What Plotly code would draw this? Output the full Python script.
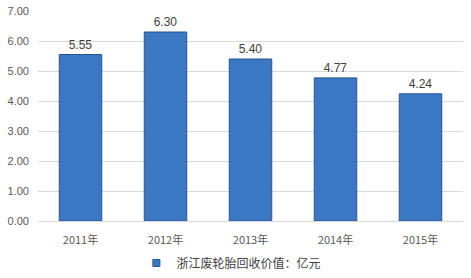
import plotly.graph_objects as go

years = ["2011年", "2012年", "2013年", "2014年", "2015年"]
values = [5.55, 6.30, 5.40, 4.77, 4.24]
value_labels = ["5.55", "6.30", "5.40", "4.77", "4.24"]
series_name = "浙江废轮胎回收价值：亿元"
y_ticks = [0, 1, 2, 3, 4, 5, 6, 7]

fig = go.Figure()
fig.add_trace(go.Bar(
    x=years, y=values, name=series_name, showlegend=False,
    text=value_labels, textposition="outside",
    textfont=dict(family="Liberation Sans, sans-serif", size=12, color="#404040"),
    marker=dict(color="#3B78C4", line=dict(color="#27558F", width=1)),
    width=0.5, cliponaxis=False,
))
# legend entry with small square swatch
fig.add_trace(go.Scatter(
    x=[None], y=[None], mode="markers", name=series_name,
    marker=dict(symbol="square", size=7, color="#3B78C4",
                line=dict(color="#27558F", width=1)),
))
fig.update_layout(
    width=471, height=278,
    margin=dict(l=38, r=8, t=11, b=57, autoexpand=False),
    plot_bgcolor="white", paper_bgcolor="white",
    font=dict(family="Noto Sans CJK SC, Liberation Sans, sans-serif", size=11, color="#595959"),
    showlegend=True,
    legend=dict(orientation="h", x=0.455, xanchor="center", y=-0.2, yanchor="middle",
                font=dict(size=12, color="#404040"), itemwidth=30),
)
fig.update_yaxes(range=[0, 7], tickvals=y_ticks, tickformat=".2f",
                 showgrid=True, gridcolor="#D9D9D9", gridwidth=1,
                 zeroline=False, ticks="", ticklabelstandoff=8,
                 tickfont=dict(family="Liberation Sans, sans-serif", size=11, color="#595959"))
fig.update_xaxes(showline=True, linecolor="#D9D9D9", linewidth=1, ticks="",
                 ticklabelstandoff=9, range=[-0.5, 4.5],
                 tickfont=dict(size=11, color="#595959"))
fig.write_html("out.html")
